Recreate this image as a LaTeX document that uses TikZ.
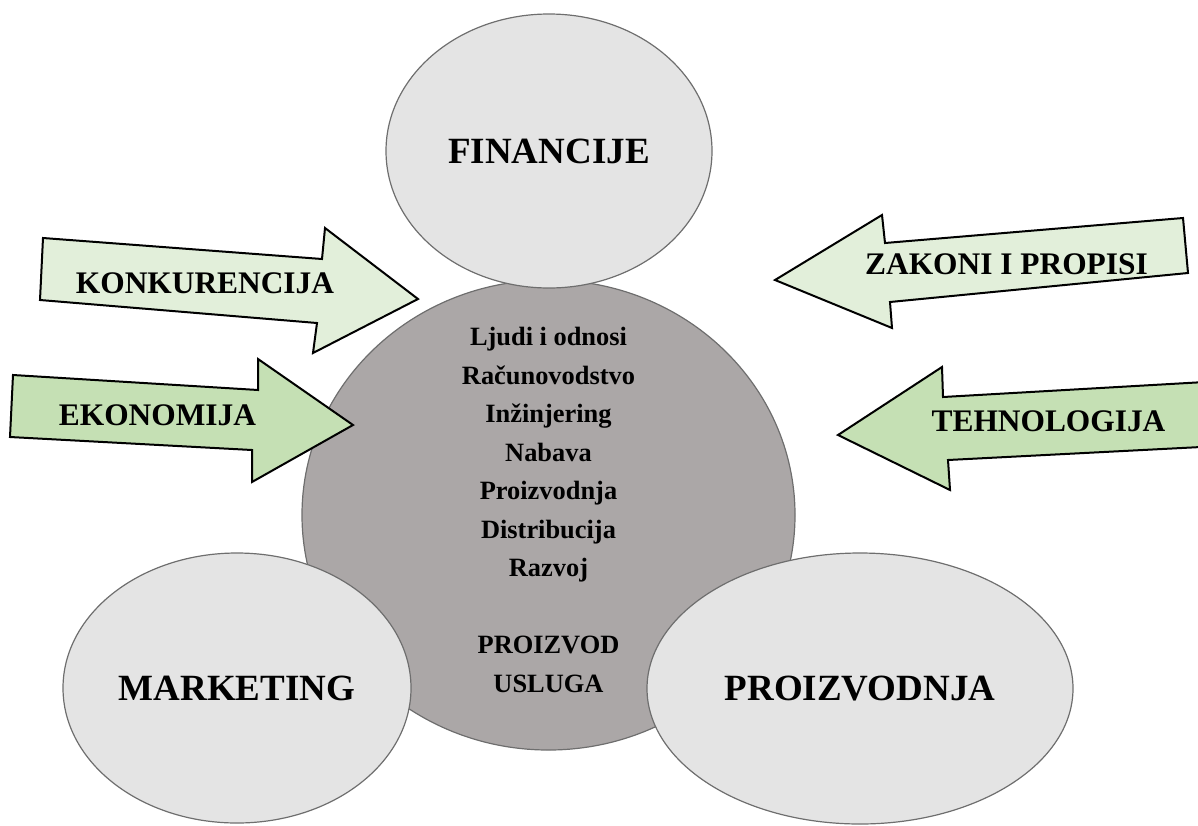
\documentclass[tikz,border=0pt]{standalone}
\usepackage{fontspec}
\setmainfont{Liberation Serif}
\usepackage{tikz}
\usetikzlibrary{shapes.geometric}
\definecolor{coregrey}{RGB}{171,167,167}
\definecolor{areagrey}{RGB}{228,228,228}
\definecolor{rimgrey}{RGB}{110,110,110}
\definecolor{palegreen}{RGB}{226,239,218}
\definecolor{midgreen}{RGB}{197,224,180}

\begin{document}
\begin{tikzpicture}[x=0.5pt, y=-0.5pt,
    area/.style={ellipse, draw=rimgrey, line width=0.6pt, fill=areagrey, inner sep=0pt, outer sep=0pt, font=\fontsize{18.5}{22}\selectfont\bfseries},
    force/.style={draw=black, line width=1pt, line join=miter},
    forcelabel/.style={anchor=base, inner sep=0pt, font=\fontsize{15.7}{19}\selectfont\bfseries}]

			\useasboundingbox (0,0) rectangle (1198,825);
			\clip (0,0) rectangle (1198,825);

			% Core
			\node[area, fill=coregrey, minimum width=246.5pt, minimum height=235pt] (core) at (548.5,515) {};
			\node[anchor=base, align=center, inner sep=0pt, font=\fontsize{13.2}{19.25}\selectfont\bfseries] (tasks) at (548.5,692)
				{Ljudi i odnosi\\ Računovodstvo\\ Inžinjering\\ Nabava\\ Proizvodnja\\ Distribucija\\ Razvoj\\[19.25pt] PROIZVOD\\ USLUGA};

			% Functions
			\node[area, minimum width=163pt, minimum height=137pt] (fin) at (549,151) {FINANCIJE};
			\node[area, minimum width=174pt, minimum height=135pt] (mkt) at (237,688) {MARKETING};
			\node[area, minimum width=213pt, minimum height=135.5pt] (prod) at (860,688.5) {PROIZVODNJA};

			% Outside forces
			\draw[force, fill=palegreen] (43,238) -- (322,259) -- (325,228) -- (418,299) -- (313,353) -- (317,323) -- (40,300) -- cycle;
			\draw[force, fill=midgreen] (13,375) -- (258,390) -- (258,359) -- (353,425) -- (252,482) -- (252,450) -- (10,437) -- cycle;
			\draw[force, fill=palegreen] (775,280) -- (882,215) -- (885,243) -- (1183,218) -- (1188,273) -- (890,302) -- (892,328) -- cycle;
			\draw[force, fill=midgreen] (838,435) -- (942,367) -- (943,397) -- (1240,380) -- (1240,445) -- (948,460) -- (950,490) -- cycle;

			\node[forcelabel] (konk) at (205,293) {KONKURENCIJA};
			\node[forcelabel] (ekon) at (157.5,425) {EKONOMIJA};
			\node[forcelabel] (zak) at (1006.5,274) {ZAKONI I PROPISI};
			\node[forcelabel] (teh) at (1048.5,431) {TEHNOLOGIJA};
		\end{tikzpicture}
\end{document}
